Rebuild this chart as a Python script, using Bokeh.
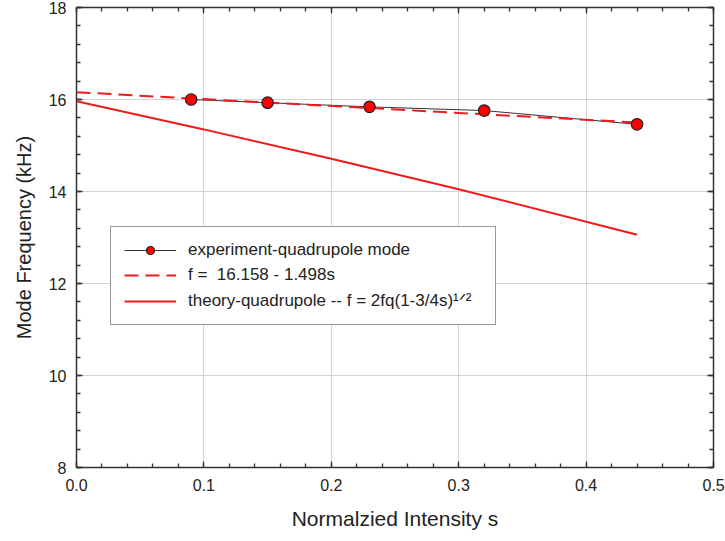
from bokeh.plotting import figure
from bokeh.models import (LinearAxis, SingleIntervalTicker, Range1d, Legend, LegendItem,
                          NumeralTickFormatter, CustomJSTickFormatter)
from bokeh.embed import file_html
from bokeh.resources import INLINE

# Data
exp_s = [0.09, 0.15, 0.23, 0.32, 0.44]
exp_f = [16.00, 15.93, 15.84, 15.76, 15.46]
fit_s = [0.0, 0.44]
fit_f = [16.158, 15.499]
theory_s = [0.0, 0.1, 0.2, 0.3, 0.44]
theory_f = [15.96, 15.35, 14.71, 14.05, 13.06]

labels = ["experiment-quadrupole mode", "f =  16.158 - 1.498s",
          "theory-quadrupole -- f = 2fq(1-3/4s)\u00b9\u141f\u00b2"]

FONT = "Liberation Sans"
RED = "#ee1c1c"
TXT = "#222222"

p = figure(width=725, height=541, output_backend="svg", toolbar_location=None,
           x_range=Range1d(0, 0.5), y_range=Range1d(8, 18),
           min_border_left=76, min_border_right=12, min_border_top=7, min_border_bottom=74,
           x_axis_label="Normalzied Intensity s", y_axis_label="Mode Frequency (kHz)")
p.background_fill_color = "white"
p.border_fill_color = "white"
p.outline_line_color = "#333333"
p.outline_line_width = 1.5

xt = SingleIntervalTicker(interval=0.1, num_minor_ticks=5)
yt = SingleIntervalTicker(interval=2, num_minor_ticks=5)
p.xaxis.ticker = xt
p.yaxis.ticker = yt
p.xaxis.formatter = NumeralTickFormatter(format="0.0")
p.xgrid.ticker = xt
p.ygrid.ticker = yt
for g in (p.xgrid, p.ygrid):
    g.grid_line_color = "#d4d4d4"
    g.grid_line_width = 1

def style_axis(ax, labels_on=True):
    ax.axis_line_color = None
    ax.major_tick_in = 6
    ax.major_tick_out = 0
    ax.minor_tick_in = 4
    ax.minor_tick_out = 0
    ax.major_tick_line_color = "#333333"
    ax.minor_tick_line_color = "#333333"
    ax.major_tick_line_width = 1.3
    ax.minor_tick_line_width = 1.3
    if labels_on:
        ax.major_label_text_font = FONT
        ax.major_label_text_font_size = "16px"
        ax.major_label_text_color = TXT
        ax.axis_label_text_font = FONT
        ax.axis_label_text_font_style = "normal"
        ax.axis_label_text_color = TXT
    else:
        ax.formatter = CustomJSTickFormatter(code="return ''")
        ax.major_label_text_font_size = "1px"
        ax.major_label_standoff = 0

style_axis(p.xaxis[0])
style_axis(p.yaxis[0])
p.xaxis[0].axis_label_text_font_size = "21px"
p.yaxis[0].axis_label_text_font_size = "20px"
p.xaxis[0].major_label_standoff = 11
p.xaxis[0].axis_label_standoff = 13
p.yaxis[0].major_label_standoff = 10
p.yaxis[0].axis_label_standoff = 11

top = LinearAxis(ticker=xt)
right = LinearAxis(ticker=yt)
style_axis(top, False)
style_axis(right, False)
p.add_layout(top, "above")
p.add_layout(right, "right")

# Glyphs
r_theory = p.line(theory_s, theory_f, line_color=RED, line_width=2)
r_expline = p.line(exp_s, exp_f, line_color="#333333", line_width=1)
r_fit = p.line(fit_s, fit_f, line_color=RED, line_width=2, line_dash="14 7")
r_pts = p.scatter(exp_s, exp_f, marker="circle", size=11.5, fill_color="#ff0000",
                  line_color="#222222", line_width=1.2)

legend = Legend(items=[
    LegendItem(label=labels[0], renderers=[r_expline, r_pts]),
    LegendItem(label=labels[1], renderers=[r_fit]),
    LegendItem(label=labels[2], renderers=[r_theory]),
], location=(34, 142))
legend.label_text_font = FONT
legend.label_text_font_size = "17px"
legend.label_text_color = TXT
legend.glyph_width = 52
legend.glyph_height = 20
legend.label_height = 20
legend.label_width = 294
legend.label_standoff = 12
legend.spacing = 5
legend.padding = 13
legend.border_line_color = "#333333"
legend.border_line_width = 1.5
legend.background_fill_alpha = 1
p.add_layout(legend, "center")

open("out.html", "w").write(file_html(p, INLINE))
